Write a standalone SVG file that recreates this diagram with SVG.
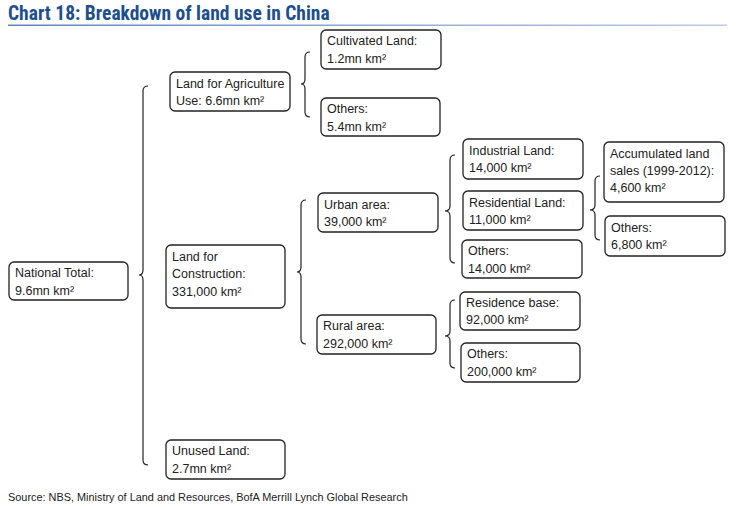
<svg xmlns="http://www.w3.org/2000/svg" width="736" height="507" viewBox="0 0 736 507">
<defs>
<linearGradient id="ul" x1="0" y1="0" x2="1" y2="0">
<stop offset="0" stop-color="#5d86bd"/>
<stop offset="1" stop-color="#b9cde6"/>
</linearGradient>
<style>
.b{fill:#fff;stroke:#222;stroke-width:1.3}
.t{font-family:"Liberation Sans",Arial,sans-serif;font-size:12.5px;fill:#222}
.br{fill:none;stroke:#222;stroke-width:1.2}
.title{font-family:"Liberation Sans Narrow","Roboto Condensed","Liberation Sans",Arial,sans-serif;font-weight:bold;font-size:19.5px;fill:#1d4f8f}
.src{font-family:"Liberation Sans",Arial,sans-serif;font-size:10.9px;fill:#222}
</style>
</defs>
<rect width="736" height="507" fill="#fff"/>
<text class="title" x="8" y="20">Chart 18: Breakdown of land use in China</text>
<rect x="8" y="24.5" width="719" height="1.5" fill="url(#ul)"/>

<g id="connectors">
<path class="br" d="M148,86 Q143,86 143,91 L143,270 Q143,275 139,275 Q143,275 143,280 L143,460 Q143,465 148,465"/>
<path class="br" d="M310,52 Q305,52 305,57 L305,79 Q305,84 301,84 Q305,84 305,89 L305,112 Q305,117 310,117"/>
<path class="br" d="M306,200 Q301,200 301,205 L301,267 Q301,272 297,272 Q301,272 301,277 L301,339 Q301,344 306,344"/>
<path class="br" d="M455,155 Q450,155 450,160 L450,206 Q450,211 445,211 Q450,211 450,216 L450,258 Q450,263 455,263"/>
<path class="br" d="M600,176 Q595,176 595,181 L595,205 Q595,210 590,210 Q595,210 595,215 L595,235 Q595,240 600,240"/>
<path class="br" d="M455,300 Q450,300 450,305 L450,331 Q450,336 445,336 Q450,336 450,341 L450,363 Q450,368 455,368"/>
</g>

<g id="national">
<rect class="b" x="9" y="262" width="119" height="38" rx="5"/>
<text class="t" x="15" y="277">National Total:<tspan x="15" dy="17.5">9.6mn km²</tspan></text>
</g>
<g id="agriculture">
<rect class="b" x="170" y="72" width="120" height="39" rx="5"/>
<text class="t" x="176" y="87.5">Land for Agriculture<tspan x="176" dy="17.5">Use: 6.6mn km²</tspan></text>
</g>
<g id="construction">
<rect class="b" x="166" y="245" width="119" height="63" rx="5"/>
<text class="t" x="172" y="260.5">Land for<tspan x="172" dy="17.5">Construction:</tspan><tspan x="172" dy="17.5">331,000 km²</tspan></text>
</g>
<g id="unused">
<rect class="b" x="166" y="440" width="119" height="39" rx="5"/>
<text class="t" x="172" y="455">Unused Land:<tspan x="172" dy="17.5">2.7mn km²</tspan></text>
</g>
<g id="cultivated">
<rect class="b" x="321" y="30" width="120" height="39" rx="5"/>
<text class="t" x="327" y="45">Cultivated Land:<tspan x="327" dy="17.5">1.2mn km²</tspan></text>
</g>
<g id="agri-others">
<rect class="b" x="321" y="98" width="119" height="38" rx="5"/>
<text class="t" x="327" y="113">Others:<tspan x="327" dy="17.5">5.4mn km²</tspan></text>
</g>
<g id="urban">
<rect class="b" x="318" y="193" width="120" height="39" rx="5"/>
<text class="t" x="324" y="208.5">Urban area:<tspan x="324" dy="17.5">39,000 km²</tspan></text>
</g>
<g id="rural">
<rect class="b" x="317" y="315" width="119" height="39" rx="5"/>
<text class="t" x="323" y="330">Rural area:<tspan x="323" dy="17.5">292,000 km²</tspan></text>
</g>
<g id="industrial">
<rect class="b" x="463" y="139" width="120" height="40" rx="5"/>
<text class="t" x="469" y="154.5">Industrial Land:<tspan x="469" dy="17.5">14,000 km²</tspan></text>
</g>
<g id="residential">
<rect class="b" x="463" y="191" width="120" height="39" rx="5"/>
<text class="t" x="469" y="206.5">Residential Land:<tspan x="469" dy="17.5">11,000 km²</tspan></text>
</g>
<g id="urban-others">
<rect class="b" x="462" y="240" width="120" height="38" rx="5"/>
<text class="t" x="468" y="255">Others:<tspan x="468" dy="17.5">14,000 km²</tspan></text>
</g>
<g id="residence-base">
<rect class="b" x="460" y="292" width="120" height="38" rx="5"/>
<text class="t" x="466" y="306.5">Residence base:<tspan x="466" dy="17.5">92,000 km²</tspan></text>
</g>
<g id="rural-others">
<rect class="b" x="461" y="343" width="119" height="39" rx="5"/>
<text class="t" x="467" y="358">Others:<tspan x="467" dy="17.5">200,000 km²</tspan></text>
</g>
<g id="accumulated">
<rect class="b" x="604" y="142" width="120" height="60" rx="5"/>
<text class="t" x="610" y="157.5">Accumulated land<tspan x="610" dy="17">sales (1999-2012):</tspan><tspan x="610" dy="17">4,600 km²</tspan></text>
</g>
<g id="residential-others">
<rect class="b" x="605" y="216" width="120" height="40" rx="5"/>
<text class="t" x="611" y="232">Others:<tspan x="611" dy="17">6,800 km²</tspan></text>
</g>

<text class="src" x="8" y="501">Source: NBS, Ministry of Land and Resources, BofA Merrill Lynch Global Research</text>
</svg>
